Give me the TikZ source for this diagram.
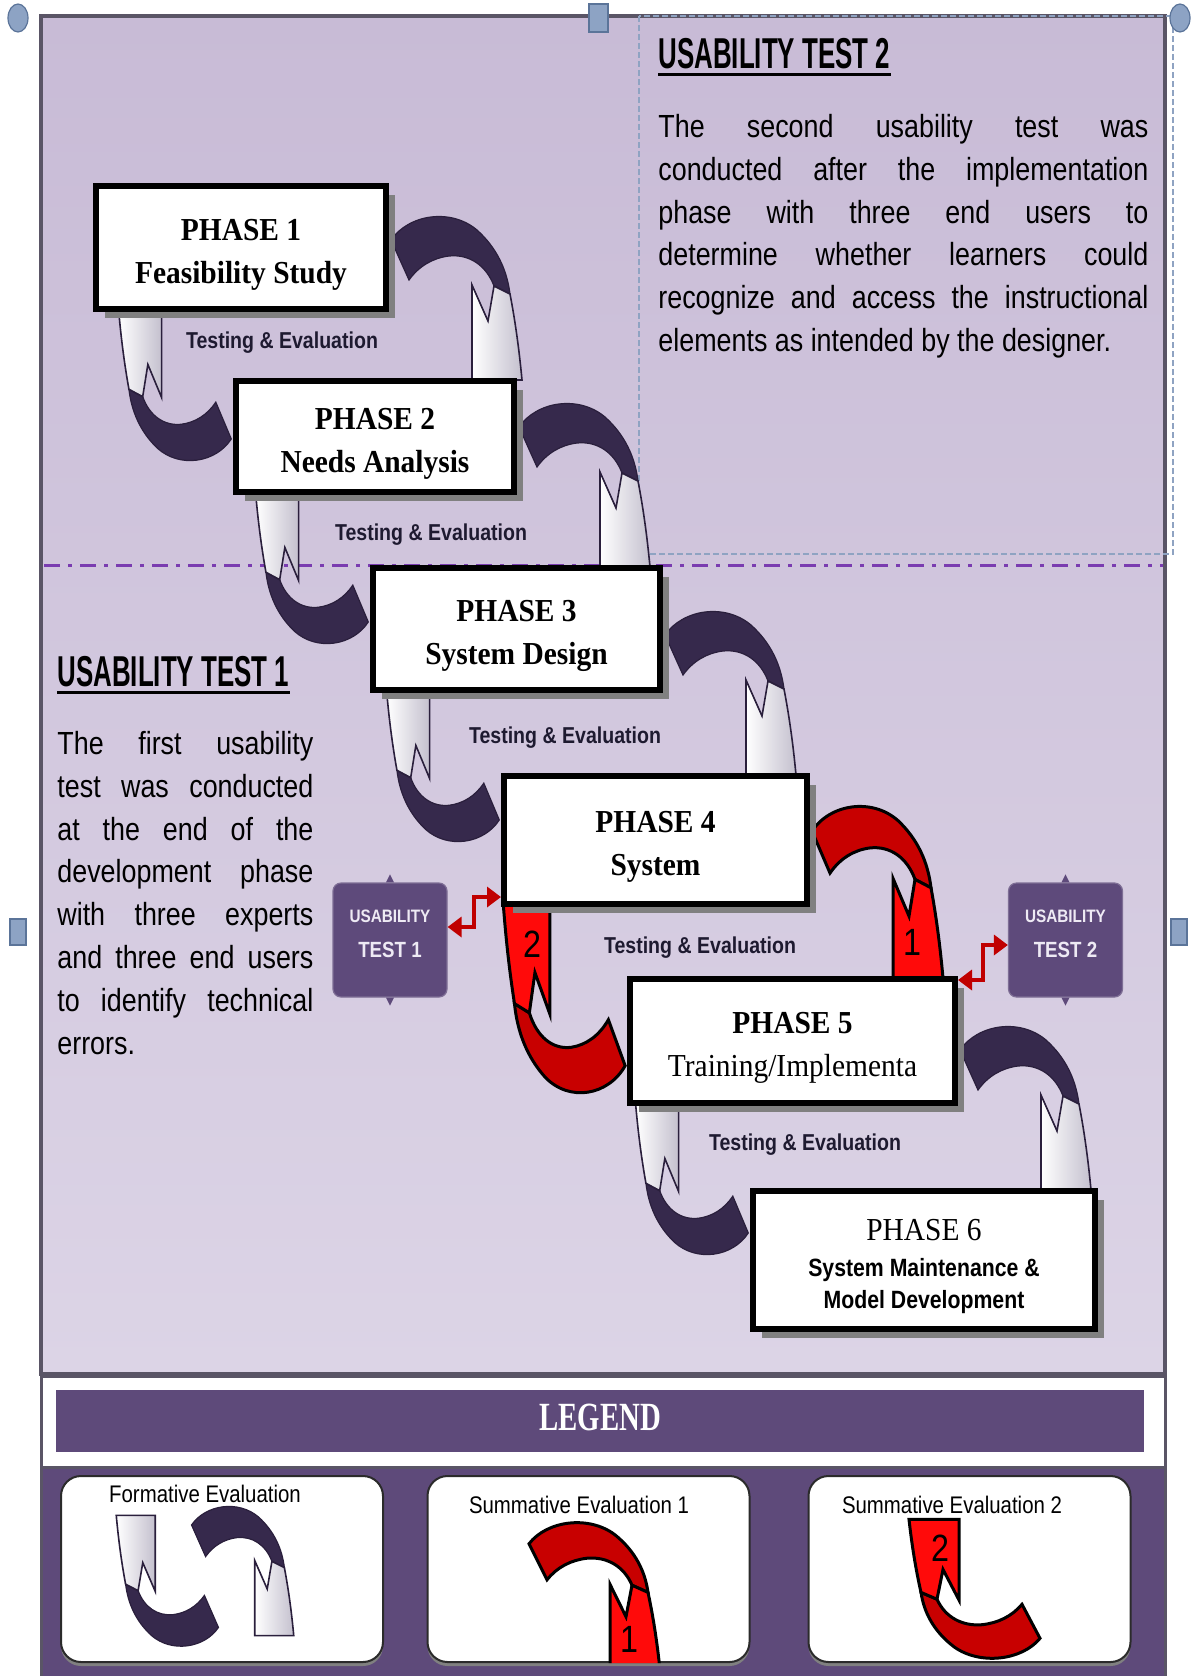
\documentclass[tikz,border=0pt]{standalone}
\usepackage{fontspec}
\setmainfont{Liberation Serif}
\newfontfamily\phasefont[FakeStretch=0.92]{Liberation Serif}
\newfontfamily\headfont[FakeStretch=0.6]{Liberation Sans}
\newfontfamily\bodyfont[FakeStretch=0.84]{Liberation Sans}
\newfontfamily\smallfont[FakeStretch=0.85]{Liberation Sans}
\newfontfamily\legendfont[FakeStretch=0.72]{Liberation Serif}
\usetikzlibrary{arrows.meta, positioning, shadows}
\pgfdeclarelayer{back}
\pgfdeclarelayer{mid}
\pgfsetlayers{back,mid,main}

\definecolor{panelTop}{HTML}{C8BBD6}
\definecolor{panelBot}{HTML}{DCD4E6}
\definecolor{frameline}{HTML}{5A5566}
\definecolor{dashpurple}{HTML}{7A3CB0}
\definecolor{boxdash}{HTML}{8FA3C2}
\definecolor{handlefill}{HTML}{8DA3C4}
\definecolor{handledraw}{HTML}{5B7499}
\definecolor{arrowdark}{HTML}{36294C}
\definecolor{arrowline}{HTML}{2A1F3C}
\definecolor{tipgray}{HTML}{C4C0CE}
\definecolor{reddark}{HTML}{C80000}
\definecolor{redlight}{HTML}{FF0A0A}
\definecolor{linkred}{HTML}{C00000}
\definecolor{utpurple}{HTML}{5E4A7B}
\definecolor{utwhite}{HTML}{EEEAF4}
\definecolor{legendpurple}{HTML}{5E4A7A}
\definecolor{labeltext}{HTML}{1E1A30}
\definecolor{shadowgray}{HTML}{808080}
\definecolor{boxline}{HTML}{2B2B2B}

\newcommand{\toppad}{\rule{0pt}{17.5pt}}
\newcommand{\lowpad}{\rule[-6pt]{0pt}{6pt}}

\begin{document}
\begin{tikzpicture}[x=0.5pt, y=-0.5pt]
        \useasboundingbox (0,0) rectangle (1192,1676);

        % Styles
        \tikzstyle{phasebox} = [draw=black, line width=3pt, fill=white, inner sep=0pt, align=center,
            drop shadow={shadow xshift=4.5pt, shadow yshift=-4.5pt, fill=shadowgray, opacity=1},
            font=\phasefont\fontsize{16}{21.5}\selectfont]
        \tikzstyle{boldphase} = [phasebox, font=\phasefont\bfseries\fontsize{16}{21.5}\selectfont]
        \tikzstyle{testlabel} = [inner sep=0pt, text=labeltext, font=\smallfont\bfseries\fontsize{11.5}{13}\selectfont]
        \tikzstyle{headtext} = [inner sep=0pt, font=\headfont\bfseries\fontsize{21.6}{24}\selectfont]
        \tikzstyle{bodytext} = [inner sep=0pt, align=justify, font=\bodyfont\fontsize{16}{21.4}\selectfont]
        \tikzstyle{utbox} = [rounded corners=4pt, fill=utpurple, draw=utpurple!80!white, line width=0.6pt,
            minimum width=57pt, minimum height=57pt, inner sep=0pt, align=center, text=utwhite,
            font=\smallfont\bfseries\fontsize{9}{17.5}\selectfont]
        \tikzstyle{redlink} = [{Triangle[length=7pt,width=10pt]}-{Triangle[length=7pt,width=10pt]}, draw=linkred, line width=2pt]
        \tikzstyle{legendbox} = [rounded corners=10pt, fill=white, draw=boxline, line width=1pt,
            minimum width=161pt, minimum height=93pt,
            drop shadow={shadow xshift=0pt, shadow yshift=-2pt, fill=shadowgray, opacity=1}]
        \tikzstyle{legendlabel} = [inner sep=0pt, font=\smallfont\fontsize{12}{14}\selectfont]
        \tikzstyle{selhandle} = [fill=handlefill, draw=handledraw, line width=0.6pt]
        \tikzstyle{arrownum} = [inner sep=0pt, font=\smallfont\fontsize{19}{19}\selectfont]
        \tikzstyle{bandfill} = [fill=arrowdark, draw=arrowline, line width=0.6pt]
        \tikzstyle{tipfill} = [left color=white, right color=tipgray, draw=arrowline, line width=0.8pt]
        \tikzstyle{phaseline} = [draw=dashpurple, line width=1.5pt, dash pattern=on 8pt off 4pt on 2pt off 4pt]
        \tikzstyle{textboxdash} = [draw=boxdash, line width=0.8pt, dash pattern=on 3pt off 1.5pt]
        \tikzset{
            redtone/.style={bandfill/.style={fill=reddark, draw=black, line width=1.5pt},
                            tipfill/.style={fill=redlight, draw=black, line width=1.5pt}},
            pics/bendarrow/.default={},
            pics/bendarrow/.style={code={
                \filldraw[bandfill] (2,-138) .. controls (20,-164) and (62,-170) .. (88,-148)
                    .. controls (108,-130) and (118,-108) .. (121,-84) -- (105,-92)
                    .. controls (97,-113) and (80,-124) .. (60,-122)
                    .. controls (44,-120) and (30,-112) .. (20,-98) -- cycle;
                \filldraw[tipfill] (83,-93) -- (99,-57) -- (105,-92) -- (121,-84)
                    .. controls (126,-58) and (130,-30) .. (133,2) -- (83,2) -- cycle;
                \node[arrownum] (-num) at (102,-32) {#1};
            }}
        }

        % Phases
        \node[boldphase, minimum width=145pt, minimum height=61.5pt] (p1) at (241,247.5) {\toppad PHASE 1\\Feasibility Study};
        \node[boldphase, minimum width=139pt, minimum height=55.5pt] (p2) at (375,436.5) {\toppad PHASE 2\\Needs Analysis};
        \node[boldphase, minimum width=143.5pt, minimum height=61pt] (p3) at (516.5,629) {\toppad PHASE 3\\System Design};
        \node[boldphase, minimum width=151.5pt, minimum height=64pt] (p4) at (655.5,840) {\toppad PHASE 4\\System};
        \node[phasebox, minimum width=162.5pt, minimum height=62pt] (p5) at (792.5,1041) {\toppad\textbf{PHASE 5}\\Training/Implementa};
        \node[phasebox, minimum width=171pt, minimum height=69pt, font=\phasefont\fontsize{16}{16}\selectfont] (p6) at (924,1260)
            {\toppad PHASE 6\\[2pt]{\smallfont\bfseries\fontsize{12.5}{16}\selectfont System Maintenance \&}\\{\smallfont\bfseries\fontsize{12.5}{16}\selectfont Model Development}};

        % Panel background
        \begin{pgfonlayer}{back}
            \shade[top color=panelTop, bottom color=panelBot] (41,16) rectangle (1165,1374);
            \draw[frameline, line width=2pt] (41,16) rectangle (1165,1374);
            \draw[phaseline] (44,565) -- (1163,565);
            \draw[textboxdash] (639,16) rectangle (1173,554);
        \end{pgfonlayer}

        % Curved arrows between phases
        \begin{pgfonlayer}{mid}
            \pic at (p1.east |- p2.north) {bendarrow};
            \pic[rotate=180, xscale=0.86, yscale=0.92] at (p2.west |- p1.south) {bendarrow};
            \pic at (p2.east |- p3.north) {bendarrow};
            \pic[rotate=180, xscale=0.86, yscale=0.92] at (p3.west |- p2.south) {bendarrow};
            \pic at (p3.east |- p4.north) {bendarrow};
            \pic[rotate=180, xscale=0.86, yscale=0.92] at (p4.west |- p3.south) {bendarrow};
            \pic[redtone, yscale=1.05] at (p4.east |- p5.north) {bendarrow=1};
            \pic[redtone, rotate=180, xscale=0.93, yscale=1.15] at (p5.west |- p4.south) {bendarrow=2};
            \pic at (p5.east |- p6.north) {bendarrow};
            \pic[rotate=180, xscale=0.86, yscale=0.92] at (p6.west |- p5.south) {bendarrow};
        \end{pgfonlayer}

        % Testing labels
        \node[testlabel] (t1) at (282,343) {Testing \& Evaluation};
        \node[testlabel] (t2) at (431,535) {Testing \& Evaluation};
        \node[testlabel] (t3) at (565,738) {Testing \& Evaluation};
        \node[testlabel] (t4) at (700,948) {Testing \& Evaluation};
        \node[testlabel] (t5) at (805,1145) {Testing \& Evaluation};

        % Usability test texts
        \node[headtext, anchor=base west] (uthead2) at (658,68) {USABILITY TEST 2};
        \draw[line width=1.5pt] ([yshift=-3pt]uthead2.base west) -- ([yshift=-3pt]uthead2.base east);
        \node[bodytext, text width=245pt, anchor=north west] (uttext2) at (658,114)
            {\noindent The second usability test was\linebreak conducted after the implementation\linebreak phase with three end users to\linebreak determine whether learners could\linebreak recognize and access the instructional\linebreak elements as intended by the designer.};

        \node[headtext, anchor=base west] (uthead1) at (57,686) {USABILITY TEST 1};
        \draw[line width=1.5pt] ([yshift=-3pt]uthead1.base west) -- ([yshift=-3pt]uthead1.base east);
        \node[bodytext, text width=128pt, anchor=north west] (uttext1) at (57,731)
            {\noindent The first usability\linebreak test was conducted\linebreak at the end of the\linebreak development phase\linebreak with three experts\linebreak and three end users\linebreak to identify technical\linebreak errors.};

        % Usability test markers
        \node[utbox] (ut1) at (390,940) {USABILITY\\{\fontsize{11}{13}\selectfont TEST 1\lowpad}};
        \node[utbox] (ut2) at (1065.5,940) {USABILITY\\{\fontsize{11}{13}\selectfont TEST 2\lowpad}};
        \foreach \u in {ut1,ut2} {
            \fill[utpurple] ([xshift=-2pt]\u.north) -- ([xshift=2pt]\u.north) -- ([yshift=4pt]\u.north) -- cycle;
            \fill[utpurple] ([xshift=-2pt]\u.south) -- ([xshift=2pt]\u.south) -- ([yshift=-4pt]\u.south) -- cycle;
        }
        \draw[redlink] ([yshift=6.5pt]ut1.east) -- ++(26,0) |- ([yshift=5pt]p4.south west);
        \draw[redlink] ([yshift=-2pt]p5.north east) -- ++(25,0) |- ([yshift=-2.5pt]ut2.west);

        % Legend
        \filldraw[fill=white, draw=frameline, line width=1.5pt] (41,1376) rectangle (1165,1467);
        \fill[legendpurple] (56,1390) rectangle (1144,1452);
        \node[text=white, font=\legendfont\bfseries\fontsize{20}{22}\selectfont] (legend) at (600,1417) {LEGEND};
        \filldraw[fill=legendpurple, draw=frameline, line width=1.5pt] (41,1467) rectangle (1165,1690);

        \node[legendbox] (f1) at (222,1569) {};
        \node[legendbox] (s1) at (588.5,1569) {};
        \node[legendbox] (s2) at (969.5,1569) {};
        \node[legendlabel] (lf1) at (205,1494) {Formative Evaluation};
        \node[legendlabel] (ls1) at (579,1505) {Summative Evaluation 1};
        \node[legendlabel] (ls2) at (952,1505) {Summative Evaluation 2};

        \begin{scope}
            \clip[rounded corners=10pt] (f1.south west) rectangle (f1.north east);
            \pic[xscale=0.78, yscale=0.79] at (190,1634) {bendarrow};
            \pic[rotate=180, xscale=0.78, yscale=0.8] at (220,1517) {bendarrow};
        \end{scope}
        \begin{scope}
            \clip[rounded corners=10pt] (s1.south west) rectangle (s1.north east);
            \pic[redtone, yscale=0.9] at (527,1668) {bendarrow=1};
        \end{scope}
        \begin{scope}
            \clip[rounded corners=10pt] (s2.south west) rectangle (s2.north east);
            \pic[redtone, rotate=180, yscale=0.85] at (1042,1521) {bendarrow=2};
        \end{scope}

        % Selection handles
        \filldraw[selhandle] (18,18) ellipse [x radius=5pt, y radius=7pt];
        \filldraw[selhandle] (1180,18) ellipse [x radius=5pt, y radius=7pt];
        \filldraw[selhandle] (589,4) rectangle (608,32);
        \filldraw[selhandle] (10,919) rectangle (26,945);
        \filldraw[selhandle] (1171,919) rectangle (1187,945);

    \end{tikzpicture}
\end{document}
